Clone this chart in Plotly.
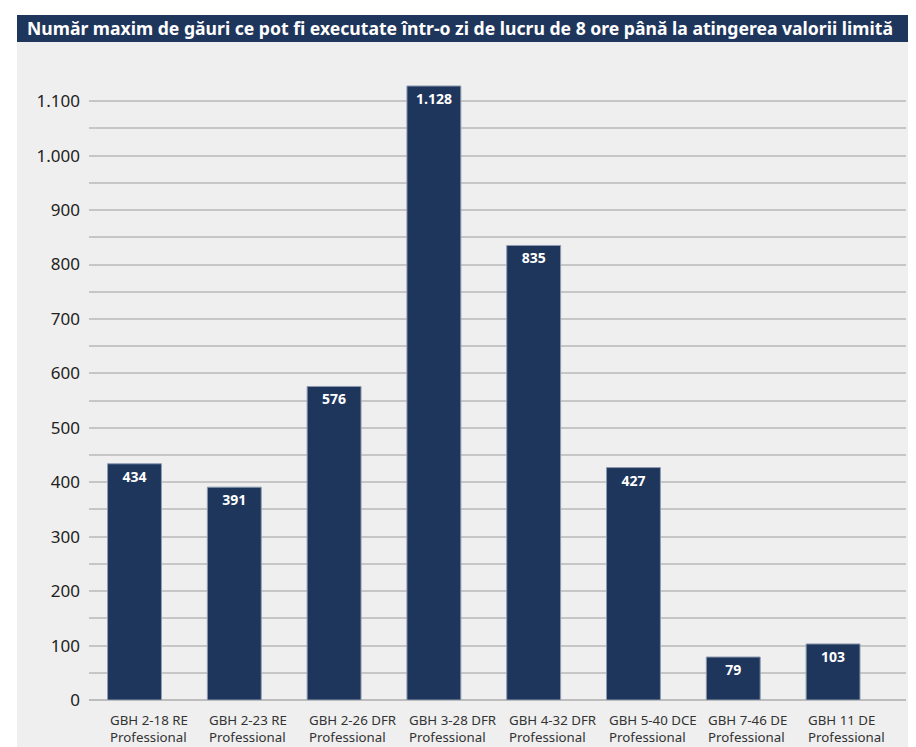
import plotly.graph_objects as go

categories = ["GBH 2-18 RE", "GBH 2-23 RE", "GBH 2-26 DFR", "GBH 3-28 DFR",
              "GBH 4-32 DFR", "GBH 5-40 DCE", "GBH 7-46 DE", "GBH 11 DE"]
subtitle = "Professional"
values = [434, 391, 576, 1128, 835, 427, 79, 103]
ytick_vals = list(range(0, 1101, 100))

title = "Număr maxim de găuri ce pot fi executate într-o zi de lucru de 8 ore până la atingerea valorii limită"

OFF = 8  # browser body margin
W, H = 916 - OFF, 747 - OFF
L = 89 - OFF
R = 10
T = 74 - OFF
B = H - (700 - OFF)
pw = W - L - R
ph = H - T - B

def px2x(px):
    return (px - OFF - L) / pw

def py2y(py):
    return (H - B - (py - OFF)) / ph

navy = "#1f365c"
fig = go.Figure()
fig.add_trace(go.Bar(
    x=list(range(len(categories))), y=values, width=0.54,
    marker=dict(color=navy, line=dict(color="#8d9bb0", width=1)),
    text=values, texttemplate="%{y:,d}", textposition="inside",
    insidetextanchor="end", textangle=0,
    textfont=dict(color="white", size=14, family="Open Sans", weight="bold"),
    hoverinfo="skip",
))

shapes = [
    dict(type="rect", xref="paper", yref="paper", x0=px2x(17), x1=px2x(940),
         y0=py2y(800), y1=py2y(42), fillcolor="#efefef", line_width=0, layer="below"),
    dict(type="rect", xref="paper", yref="paper", x0=px2x(17), x1=px2x(940),
         y0=py2y(42), y1=py2y(15), fillcolor=navy, line_width=0, layer="below"),
]
annotations = [
    dict(text=title, xref="paper", yref="paper", x=px2x(25), y=py2y(28.5),
         xanchor="left", yanchor="middle", showarrow=False,
         font=dict(color="white", size=17.6, family="Noto Sans", weight="bold")),
]
for i, c in enumerate(categories):
    annotations.append(dict(
        text=c + "<br>" + subtitle, x=i - 0.27, xref="x", yref="paper", y=py2y(709),
        xanchor="left", yanchor="top", align="left", showarrow=False,
        font=dict(color="#333333", size=13.3, family="Noto Sans")))

fig.update_layout(
    width=W, height=H, margin=dict(l=L, r=R, t=T, b=B),
    paper_bgcolor="white", plot_bgcolor="rgba(0,0,0,0)",
    separators=",.", showlegend=False, bargap=0.46,
    shapes=shapes, annotations=annotations,
    xaxis=dict(range=[-0.456, 7.731], showticklabels=False, showgrid=False,
               zeroline=False, fixedrange=True),
    yaxis=dict(range=[0, 1150], tickvals=ytick_vals, tickformat=",d",
               showgrid=True, gridcolor="#c6c6c6", gridwidth=1.5,
               zeroline=True, zerolinecolor="#bdbdbd", zerolinewidth=2,
               minor=dict(dtick=50, tick0=0, showgrid=True, gridcolor="#c6c6c6", gridwidth=1.5),
               ticklabelstandoff=8,
               tickfont=dict(size=17, color="#222222", family="Noto Sans")),
)
fig.write_html("out.html")
